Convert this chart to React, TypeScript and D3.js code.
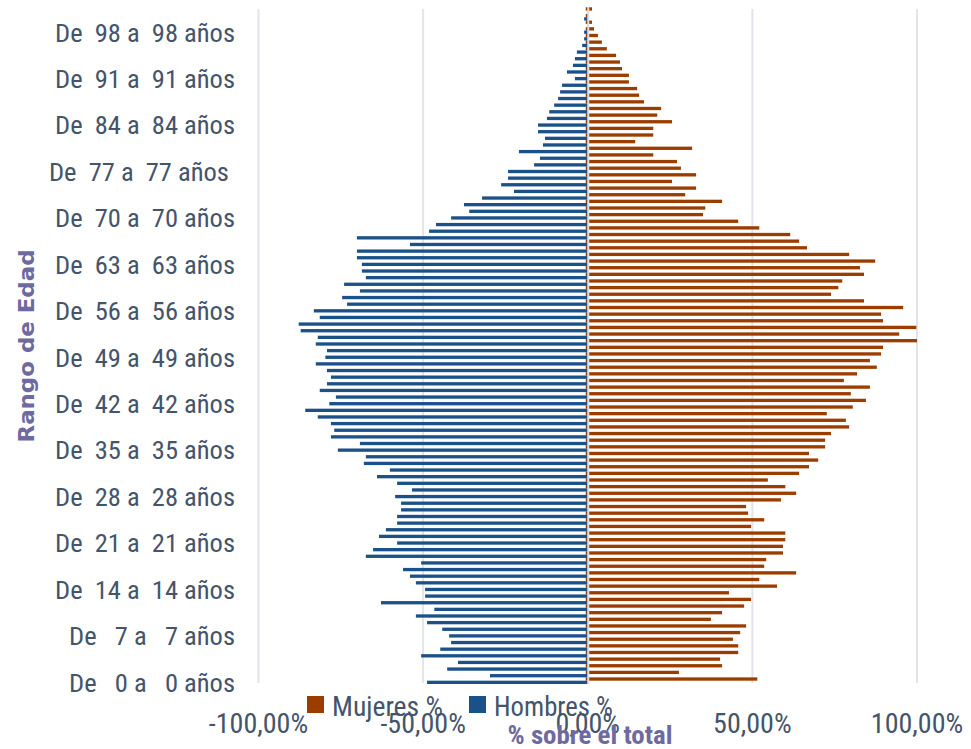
import React from "react";
import * as d3 from "d3";

// Ages 0..101 (one category per year)
const ages: number[] = d3.range(0, 102);

// % sobre el total, by age 0..101
const mujeres: number[] = [
  51.5, 27.7, 40.8, 40.2, 45.7, 45.7, 44.1, 46.3, 48.1, 37.4,
  40.8, 47.5, 49.6, 42.9, 57.5, 52.1, 63.3, 53.6, 54.2, 59.3,
  59.3, 60.0, 60.0, 49.6, 53.6, 48.7, 48.1, 58.7, 63.3, 60.0,
  54.7, 64.2, 67.2, 70.0, 67.2, 72.1, 72.1, 73.9, 79.4, 78.4,
  72.6, 80.5, 84.5, 79.9, 85.7, 77.8, 81.8, 87.8, 85.7, 89.1,
  89.7, 100.0, 94.6, 99.8, 89.7, 89.1, 95.8, 83.9, 73.9, 76.1,
  77.3, 83.9, 82.7, 87.3, 79.4, 66.6, 64.2, 61.5, 52.1, 45.7,
  35.0, 35.7, 40.8, 29.6, 32.9, 25.6, 32.9, 28.3, 27.1, 19.9,
  31.7, 14.4, 19.9, 19.9, 25.6, 21.1, 22.3, 17.1, 15.6, 15.0,
  12.5, 12.5, 10.4, 9.8, 8.6, 5.8, 4.3, 3.1, 1.9, 1.3,
  0, 1.3,
];

const hombres: number[] = [
  -48.8, -29.7, -42.7, -39.4, -50.6, -44.8, -41.5, -42.1, -44.2, -48.8,
  -52.2, -46.6, -62.8, -49.4, -49.4, -52.2, -54.0, -56.1, -50.6, -67.4,
  -65.2, -57.9, -63.4, -61.3, -57.9, -57.9, -56.7, -56.7, -58.5, -53.4,
  -57.9, -64.0, -60.1, -68.0, -67.4, -75.9, -69.2, -78.0, -77.0, -78.0,
  -82.0, -85.8, -78.5, -76.5, -81.4, -79.2, -78.0, -79.2, -82.6, -79.7,
  -79.2, -82.6, -82.0, -87.2, -87.8, -81.4, -83.2, -73.1, -74.6, -69.2,
  -74.0, -67.4, -68.6, -68.6, -70.1, -70.1, -54.0, -70.1, -48.2, -46.1,
  -41.5, -36.0, -37.6, -32.1, -22.4, -26.3, -24.2, -24.2, -16.3, -14.5,
  -20.9, -13.6, -13.0, -15.1, -15.1, -12.4, -11.7, -10.2, -9.0, -8.4,
  -7.8, -3.9, -6.3, -4.5, -3.9, -3.3, -1.7, -1.1, -1.1, 0,
  -1.1, 0,
];

const tickAges: number[] = [0, 7, 14, 21, 28, 35, 42, 49, 56, 63, 70, 77, 84, 91, 98];
const tickLabels: string[] = [
  "De   0 a   0 años",
  "De   7 a   7 años",
  "De  14 a  14 años",
  "De  21 a  21 años",
  "De  28 a  28 años",
  "De  35 a  35 años",
  "De  42 a  42 años",
  "De  49 a  49 años",
  "De  56 a  56 años",
  "De  63 a  63 años",
  "De  70 a  70 años",
  "De  77 a  77 años ",
  "De  84 a  84 años",
  "De  91 a  91 años",
  "De  98 a  98 años",
];

const xTicks: number[] = [-100, -50, 0, 50, 100];
const xTickLabels: string[] = ["-100,00%", "-50,00%", "0,00%", "50,00%", "100,00%"];

const seriesNames: string[] = ["Mujeres %", "Hombres %"];
const seriesColors: string[] = ["#9c3d00", "#1b5189"];

const xTitle = "% sobre el total";
const yTitle = "Rango de Edad";

const NARROW = "'Liberation Sans Narrow', 'Arial Narrow', 'Roboto Condensed', sans-serif";
const TEXT = "#44546a";
const TITLE = "#6e6aa0";

export default function App() {
  const W = 971;
  const H = 749;
  const x = d3.scaleLinear().domain([-100, 100]).range([258.5, 917]);
  const y = d3
    .scaleBand<number>()
    .domain(ages.slice().reverse())
    .range([7.3, 684])
    .padding(0);
  const sub = d3
    .scaleBand<string>()
    .domain(seriesNames)
    .range([0, y.bandwidth()])
    .padding(0);

  const x0 = x(0);
  const legendX = [307, 469];
  const legendW = [111, 119];

  return (
    <svg
      width={W}
      height={H}
      style={{ position: "absolute", left: 0, top: 0, display: "block", background: "#fff" }}
    >
      {/* grid */}
      {xTicks.map((t) => (
        <line
          key={"g" + t}
          x1={x(t)}
          x2={x(t)}
          y1={9}
          y2={683}
          stroke="#e1e4ea"
          strokeWidth={2}
        />
      ))}
      {/* Mujeres */}
      {ages.map((a, i) => {
        const v = mujeres[i];
        const yy = (y(a) as number) + (sub(seriesNames[0]) as number);
        return (
          <rect
            key={"m" + a}
            x={x0 - 2}
            y={yy}
            width={Math.max(0, x(v) - x0) + 2}
            height={sub.bandwidth()}
            fill={seriesColors[0]}
          />
        );
      })}
      {/* Hombres */}
      {ages.map((a, i) => {
        const v = hombres[i];
        const yy = (y(a) as number) + (sub(seriesNames[1]) as number);
        return (
          <rect
            key={"h" + a}
            x={x(v)}
            y={yy}
            width={Math.max(0, x0 - x(v))}
            height={sub.bandwidth()}
            fill={seriesColors[1]}
          />
        );
      })}
      {/* zero axis line */}
      <line x1={x0 + 0.5} x2={x0 + 0.5} y1={7} y2={684} stroke="#d9dde6" strokeWidth={2} />

      {/* category labels */}
      {tickAges.map((a, i) => (
        <text
          key={"t" + a}
          x={235}
          y={(y(a) as number) + y.bandwidth() / 2 + 1.5}
          textAnchor="end"
          dominantBaseline="central"
          fontFamily={NARROW}
          fontSize={26.5}
          fill={TEXT}
          style={{ whiteSpace: "pre" }}
        >
          {tickLabels[i]}
        </text>
      ))}

      {/* x tick labels */}
      {xTicks.map((t, i) => (
        <text
          key={"x" + t}
          x={x(t)}
          y={723}
          textAnchor="middle"
          dominantBaseline="central"
          fontFamily={NARROW}
          fontSize={28}
          fill={TEXT}
        >
          {xTickLabels[i]}
        </text>
      ))}

      {/* legend */}
      {seriesNames.map((s, i) => (
        <g key={"l" + s}>
          <rect x={legendX[i]} y={696} width={17} height={17} fill={seriesColors[i]} />
          <text
            x={legendX[i] + 25}
            y={706}
            dominantBaseline="central"
            fontFamily={NARROW}
            fontSize={28}
            textLength={legendW[i]}
            lengthAdjust="spacingAndGlyphs"
            fill={TEXT}
          >
            {s}
          </text>
        </g>
      ))}

      {/* axis titles */}
      <text
        x={590}
        y={735}
        textAnchor="middle"
        dominantBaseline="central"
        fontFamily={NARROW}
        fontWeight="bold"
        fontSize={25}
        textLength={165}
        lengthAdjust="spacingAndGlyphs"
        fill={TITLE}
      >
        {xTitle}
      </text>
      <text
        transform="translate(27,346) rotate(-90)"
        textAnchor="middle"
        dominantBaseline="central"
        fontFamily="'DejaVu Sans', Verdana, sans-serif"
        fontWeight="bold"
        fontSize={21}
        textLength={193}
        lengthAdjust="spacingAndGlyphs"
        fill={TITLE}
      >
        {yTitle}
      </text>
    </svg>
  );
}
